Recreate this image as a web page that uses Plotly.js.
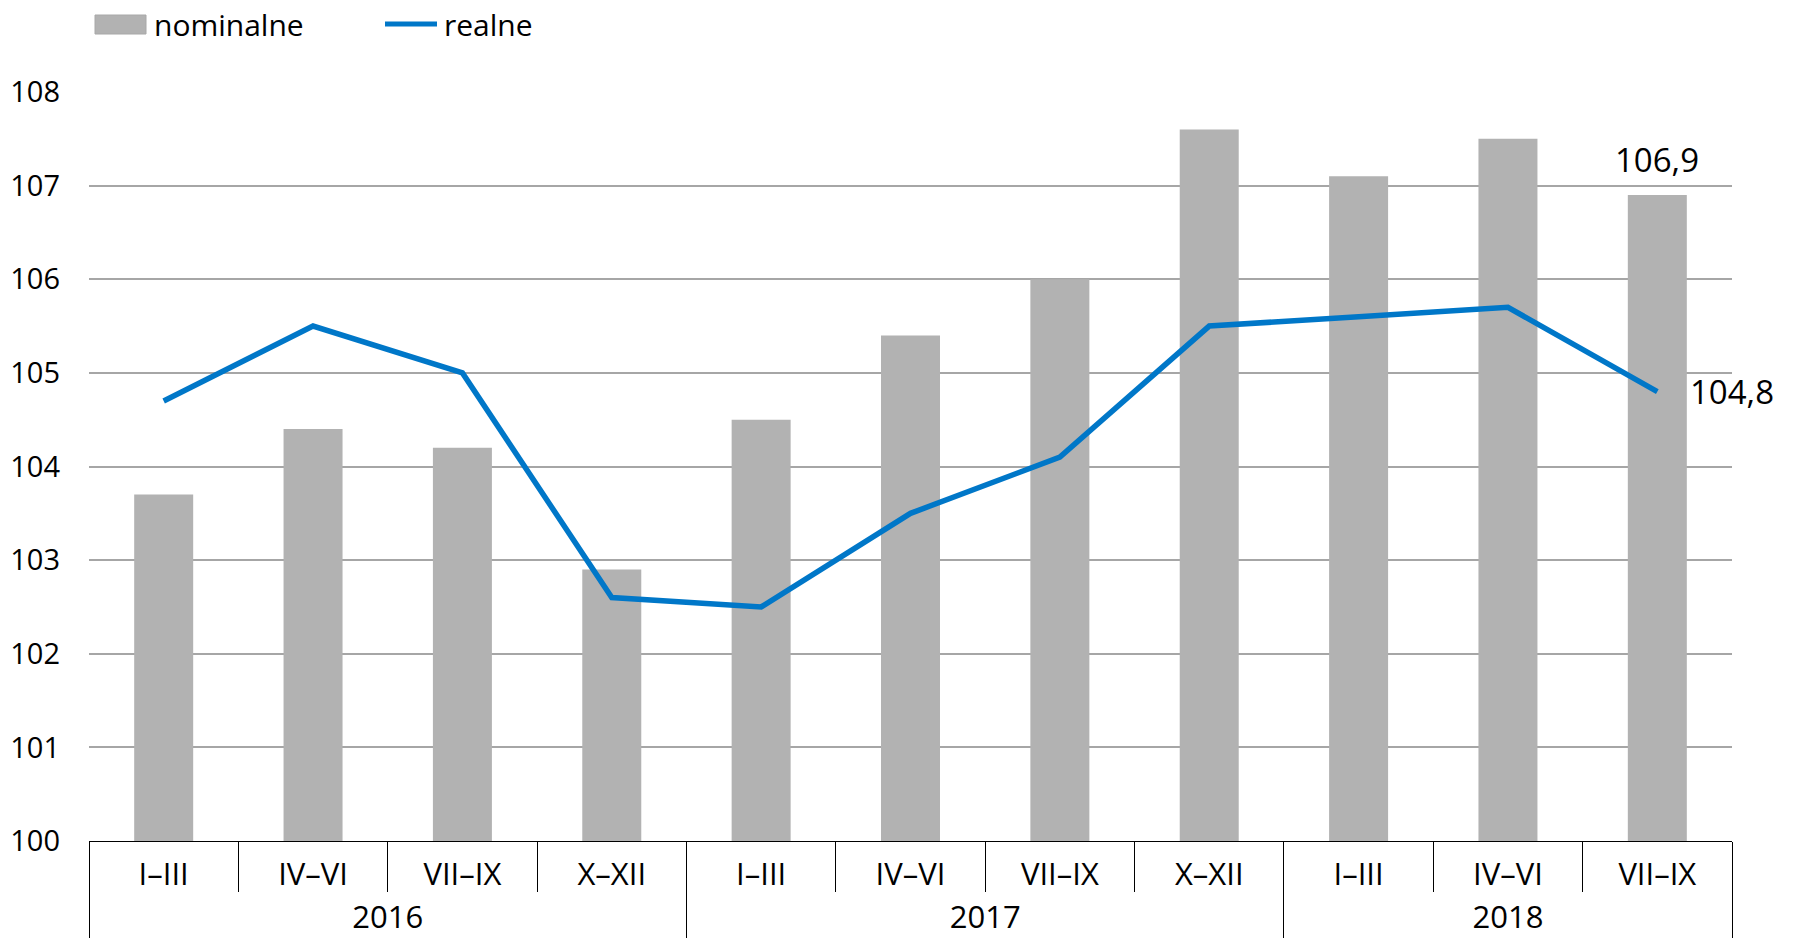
<!DOCTYPE html>
<html><head><meta charset="utf-8">
<script src="https://cdn.plot.ly/plotly-3.0.1.min.js"></script>
<style>html,body{margin:0;padding:0;background:#fff;} #chart{width:1794px;height:940px;}</style>
</head><body><div id="chart"></div>
<script>
// ---- data ----
const years = ['2016','2016','2016','2016','2017','2017','2017','2017','2018','2018','2018'];
const quarters = ['I–III','IV–VI','VII–IX','X–XII','I–III','IV–VI','VII–IX','X–XII','I–III','IV–VI','VII–IX'];
const nominalne = [103.7,104.4,104.2,102.9,104.5,105.4,106.0,107.6,107.1,107.5,106.9];
const realne = [104.7,105.5,105.0,102.6,102.5,103.5,104.1,105.5,105.6,105.7,104.8];
const seriesNames = ['nominalne','realne'];
const yTicks = [100,101,102,103,104,105,106,107,108];

// ---- layout helpers ----
const W = 1794, H = 940;
const M = {l: 89, r: 62, t: 92, b: 99};
const PW = W - M.l - M.r, PH = H - M.t - M.b;
const px2x = p => (p - M.l) / PW;
const px2y = p => (H - M.b - p) / PH;
const FONT = '"Open Sans", sans-serif';
const barColor = '#b2b2b2';
const lineColor = '#0077c8';
const last = nominalne.length - 1;
const fmt = v => v.toFixed(1).replace('.', ',');
// taller (invisible) padding around quarter labels -> more room before the year row
const SP = '<span style="font-size:35px">\u00A0</span>';
const qLabels = quarters.map(q => SP + q + SP);

const traces = [
  {type: 'bar', name: seriesNames[0], x: [years, qLabels], y: nominalne,
   marker: {color: barColor}, showlegend: false, hoverinfo: 'y'},
  {type: 'scatter', mode: 'lines', name: seriesNames[1], x: [years, qLabels], y: realne,
   line: {color: lineColor, width: 5.5}, showlegend: false, hoverinfo: 'y'}
];

const layout = {
  width: W, height: H,
  margin: M,
  paper_bgcolor: '#fff', plot_bgcolor: '#fff',
  font: {family: FONT, size: 30, color: '#000'},
  bargap: 0.605,
  separators: ', ',
  xaxis: {
    type: 'multicategory',
    range: [-0.5, last + 0.5], autorange: false,
    showdividers: true, dividercolor: '#000', dividerwidth: 1,
    ticks: 'outside', ticklen: 50, tickson: 'boundaries', tickcolor: '#000', tickwidth: 1,
    showline: true, linecolor: '#000', linewidth: 1.3,
    showgrid: false,
    ticklabelstandoff: 6,
    tickfont: {family: FONT, size: 31, color: '#000'}
  },
  yaxis: {
    range: [100, 108], autorange: false, tickvals: yTicks, ticktext: yTicks.map(String),
    showgrid: true, gridcolor: '#a6a6a6', gridwidth: 1.5,
    zeroline: false, showline: false, ticks: '',
    ticklabelstandoff: 28,
    tickfont: {family: FONT, size: 29, color: '#000'}
  },
  shapes: [
    {type: 'rect', xref: 'paper', yref: 'paper',
     x0: px2x(95), x1: px2x(146), y0: px2y(34), y1: px2y(15),
     fillcolor: barColor, line: {color: '#a8a8a8', width: 1}},
    {type: 'line', xref: 'paper', yref: 'paper',
     x0: px2x(385), x1: px2x(437), y0: px2y(24), y1: px2y(24),
     line: {color: lineColor, width: 5}}
  ],
  annotations: [
    {xref: 'paper', yref: 'paper', x: px2x(152), y: px2y(24), xanchor: 'left', yanchor: 'middle',
     text: seriesNames[0], showarrow: false, font: {family: FONT, size: 30, color: '#000'}},
    {xref: 'paper', yref: 'paper', x: px2x(442), y: px2y(24), xanchor: 'left', yanchor: 'middle',
     text: seriesNames[1], showarrow: false, font: {family: FONT, size: 30, color: '#000'}},
    {xref: 'x', yref: 'y', x: last, y: nominalne[last], xanchor: 'center', yanchor: 'bottom',
     yshift: 11, text: fmt(nominalne[last]), showarrow: false, font: {family: FONT, size: 33, color: '#000'}},
    {xref: 'x', yref: 'y', x: last, y: realne[last], xanchor: 'left', yanchor: 'middle',
     xshift: 31, text: fmt(realne[last]), showarrow: false, font: {family: FONT, size: 33, color: '#000'}}
  ]
};

Plotly.newPlot('chart', traces, layout, {displayModeBar: false, responsive: false});
</script>
</body></html>
